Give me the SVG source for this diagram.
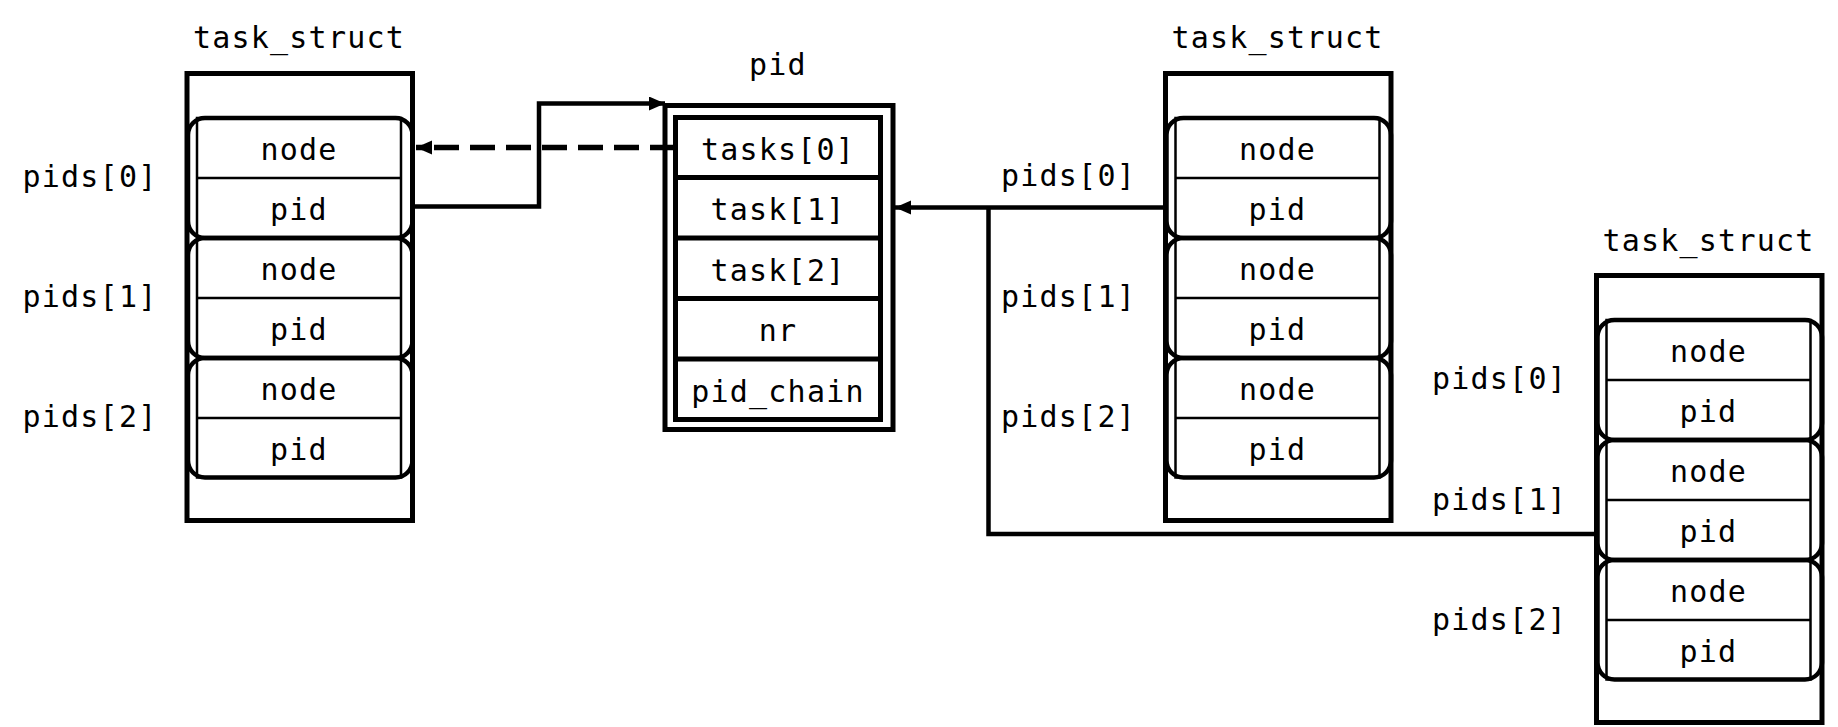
<svg xmlns="http://www.w3.org/2000/svg" width="1838" height="727" viewBox="0 0 1838 727">
<style>
text{font-family:"DejaVu Sans Mono","Liberation Mono",monospace;font-size:30px;letter-spacing:1.2px;fill:#000;text-anchor:middle}
.outer{fill:none;stroke:#000;stroke-width:5}
.thin{fill:none;stroke:#000;stroke-width:2.5}
.grp{fill:none;stroke:#000;stroke-width:4.5}
.thick{fill:none;stroke:#000;stroke-width:5}
.conn{fill:none;stroke:#000;stroke-width:4.5}
.dash{fill:none;stroke:#000;stroke-width:5.5;stroke-dasharray:25 11}
</style>
<defs>
<marker id="arr" markerUnits="userSpaceOnUse" markerWidth="17" markerHeight="15" refX="16" refY="7" orient="auto">
<path d="M0,0 L16,7 L0,14 z" fill="#000"/>
</marker>
</defs>
<rect width="1838" height="727" fill="#fff"/>

<g id="task_struct_left">
<text x="299" y="48">task_struct</text>
<rect class="outer" x="187" y="73.5" width="225.5" height="447"/>
<rect class="thin" x="197" y="118" width="204" height="359.5"/>
<path class="thin" d="M197,178H401M197,298H401M197,418H401"/>
<rect class="grp" x="188" y="118" width="224.5" height="120" rx="17"/>
<rect class="grp" x="188" y="238" width="224.5" height="120" rx="17"/>
<rect class="grp" x="188" y="358" width="224.5" height="119.5" rx="17"/>
<text x="299" y="160">node</text>
<text x="299" y="220">pid</text>
<text x="299" y="280">node</text>
<text x="299" y="340">pid</text>
<text x="299" y="400">node</text>
<text x="299" y="460">pid</text>
<text x="90" y="187">pids[0]</text>
<text x="90" y="307">pids[1]</text>
<text x="90" y="427">pids[2]</text>
</g>

<g id="task_struct_middle" transform="translate(978.5,0)">
<text x="299" y="48">task_struct</text>
<rect class="outer" x="187" y="73.5" width="225.5" height="447"/>
<rect class="thin" x="197" y="118" width="204" height="359.5"/>
<path class="thin" d="M197,178H401M197,298H401M197,418H401"/>
<rect class="grp" x="188" y="118" width="224.5" height="120" rx="17"/>
<rect class="grp" x="188" y="238" width="224.5" height="120" rx="17"/>
<rect class="grp" x="188" y="358" width="224.5" height="119.5" rx="17"/>
<text x="299" y="160">node</text>
<text x="299" y="220">pid</text>
<text x="299" y="280">node</text>
<text x="299" y="340">pid</text>
<text x="299" y="400">node</text>
<text x="299" y="460">pid</text>
<text x="90" y="186">pids[0]</text>
<text x="90" y="307">pids[1]</text>
<text x="90" y="427">pids[2]</text>
</g>

<g id="task_struct_right" transform="translate(1409.5,202)">
<text x="299" y="49">task_struct</text>
<rect class="outer" x="187" y="73.5" width="225.5" height="447"/>
<rect class="thin" x="197" y="118" width="204" height="359.5"/>
<path class="thin" d="M197,178H401M197,298H401M197,418H401"/>
<rect class="grp" x="188" y="118" width="224.5" height="120" rx="17"/>
<rect class="grp" x="188" y="238" width="224.5" height="120" rx="17"/>
<rect class="grp" x="188" y="358" width="224.5" height="119.5" rx="17"/>
<text x="299" y="160">node</text>
<text x="299" y="220">pid</text>
<text x="299" y="280">node</text>
<text x="299" y="340">pid</text>
<text x="299" y="400">node</text>
<text x="299" y="460">pid</text>
<text x="90" y="187">pids[0]</text>
<text x="90" y="308">pids[1]</text>
<text x="90" y="428">pids[2]</text>
</g>

<g id="pid">
<text x="778" y="75">pid</text>
<rect class="outer" x="665" y="105.5" width="228" height="324"/>
<rect class="thick" x="675.5" y="117.5" width="205" height="302"/>
<path class="thick" d="M675.5,177.5H880.5M675.5,238H880.5M675.5,298.5H880.5M675.5,359H880.5"/>
<text x="778" y="159.5">tasks[0]</text>
<text x="778" y="220">task[1]</text>
<text x="778" y="280.5">task[2]</text>
<text x="778" y="341">nr</text>
<text x="778" y="401.5">pid_chain</text>
</g>

<g id="connectors">
<path class="conn" d="M413,206.5H539V103.5H665" marker-end="url(#arr)"/>
<path class="dash" d="M675,147.5H416" marker-end="url(#arr)"/>
<path class="conn" d="M1165,207.5H895" marker-end="url(#arr)"/>
<path class="conn" d="M1596,534H988.5V207.5"/>
</g>
</svg>
